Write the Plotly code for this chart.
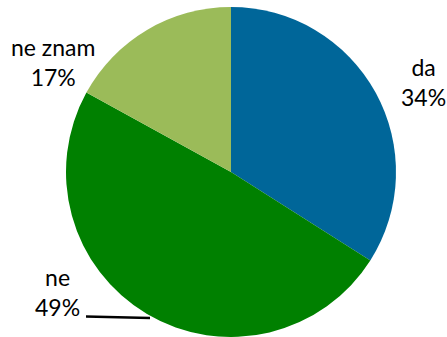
import plotly.graph_objects as go

labels = ["da", "ne", "ne znam"]
values = [34, 49, 17]
colors = ["#006699", "#008000", "#9BBB59"]

W, H = 447, 337
fig = go.Figure(go.Pie(
    labels=labels, values=values, sort=False, direction="clockwise", rotation=0,
    marker=dict(colors=colors, line=dict(width=0)),
    textinfo="none", hoverinfo="label+percent", showlegend=False,
    domain=dict(x=[66 / W, 396 / W], y=[0, 330 / H]),
))

label_pos = {"da": (423, 82), "ne": (57, 292), "ne znam": (53, 62)}
for lab, val in zip(labels, values):
    px, py = label_pos[lab]
    fig.add_annotation(
        x=px / W, y=1 - py / H, xref="paper", yref="paper",
        text=f"{lab}<br>{val}%", showarrow=False,
        font=dict(family="Lato", size=23, color="#000000"),
        align="center", xanchor="center", yanchor="middle",
    )

fig.add_shape(type="line", xref="paper", yref="paper",
              x0=86 / W, y0=1 - 316.5 / H, x1=150 / W, y1=1 - 318 / H,
              line=dict(color="#000000", width=2.5))

fig.update_layout(width=W, height=H, margin=dict(l=0, r=0, t=0, b=0),
                  paper_bgcolor="white", plot_bgcolor="white")
fig.write_html("out.html", config={"displayModeBar": False},
               post_script="document.body.style.margin='0';document.body.style.overflow='hidden';")
